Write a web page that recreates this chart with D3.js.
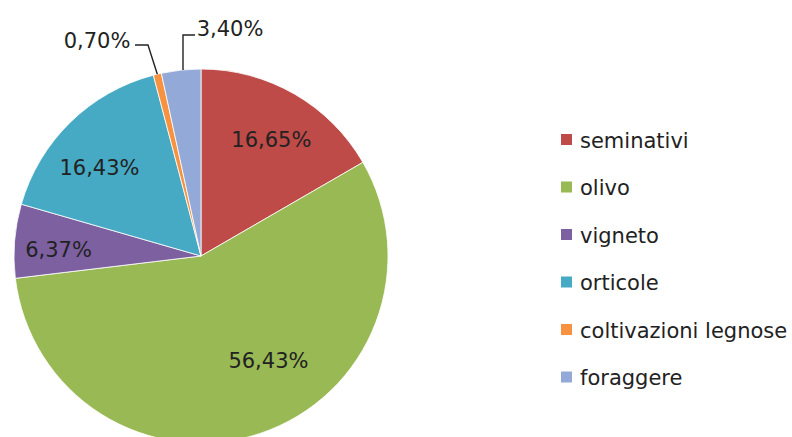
<!DOCTYPE html>
<html>
<head>
<meta charset="utf-8">
<script src="https://cdn.jsdelivr.net/npm/d3@7"></script>
<style>
  body { margin: 0; background: #fff; }
  text { font-family: "DejaVu Sans", sans-serif; fill: #222; }
</style>
</head>
<body>
<script>
// values (percent of total)
var categories = ["seminativi", "olivo", "vigneto", "orticole", "coltivazioni legnose", "foraggere"];
var values = [16.65, 56.43, 6.37, 16.43, 0.70, 3.40];
var labels = ["16,65%", "56,43%", "6,37%", "16,43%", "0,70%", "3,40%"];
var colors = ["#be4b48", "#98b954", "#7d60a0", "#46aac5", "#f69240", "#93a9d8"];

var width = 792, height = 437;
var cx = 201, cy = 256, r = 187;

var svg = d3.select("body").append("svg")
  .attr("width", width)
  .attr("height", height);

var pie = d3.pie().sort(null).value(function(d) { return d; });
var arcs = pie(values);

var arc = d3.arc().innerRadius(0).outerRadius(r);
var labelArc = d3.arc().innerRadius(r * 0.7).outerRadius(r * 0.7);
var edgeArc = d3.arc().innerRadius(r).outerRadius(r);

var g = svg.append("g").attr("transform", "translate(" + cx + "," + cy + ")");

g.selectAll("path.slice")
  .data(arcs)
  .enter()
  .append("path")
  .attr("class", "slice")
  .attr("d", arc)
  .style("fill", function(d, i) { return colors[i]; })
  .style("stroke", "#fff")
  .style("stroke-width", 0.8);

// inside labels, nudged a bit like excel's best fit
var nudge = [[5, -3], [26, -20], [-12, 4], [-10, 5]];
g.selectAll("text.inlabel")
  .data(arcs.slice(0, 4))
  .enter()
  .append("text")
  .attr("class", "inlabel")
  .attr("x", function(d, i) { return labelArc.centroid(d)[0] + nudge[i][0]; })
  .attr("y", function(d, i) { return labelArc.centroid(d)[1] + nudge[i][1]; })
  .attr("dy", "0.36em")
  .attr("text-anchor", "middle")
  .style("font-size", "21px")
  .text(function(d, i) { return labels[i]; });

// small slices get outside labels with leader lines
var small = arcs.slice(4);
var outPos = [[-104, -216], [29, -228]];
var elbow = [[[-66, -211], [-53, -211]], [[-18, -221], [-6, -221]]];

small.forEach(function(d, k) {
  var e = edgeArc.centroid(d);
  var pts = k === 0
    ? [elbow[k][0], elbow[k][1], e]
    : [elbow[k][1], elbow[k][0], [elbow[k][0][0], e[1]]];
  g.append("path")
    .attr("d", d3.line()(pts))
    .style("fill", "none")
    .style("stroke", "#222")
    .style("stroke-width", 1.4);
  g.append("text")
    .attr("x", outPos[k][0])
    .attr("y", outPos[k][1])
    .attr("dy", "0.36em")
    .attr("text-anchor", "middle")
    .style("font-size", "21px")
    .text(labels[d.index]);
});

// legend
var legend = svg.append("g").attr("transform", "translate(561,140)");
var row = legend.selectAll("g")
  .data(categories)
  .enter()
  .append("g")
  .attr("transform", function(d, i) { return "translate(0," + (i * 47.5) + ")"; });

row.append("rect")
  .attr("x", 0)
  .attr("y", -6)
  .attr("width", 11)
  .attr("height", 11)
  .style("fill", function(d, i) { return colors[i]; });

row.append("text")
  .attr("x", 19)
  .attr("y", 0)
  .attr("dy", "0.36em")
  .style("font-size", "21px")
  .text(function(d) { return d; });
</script>
</body>
</html>
